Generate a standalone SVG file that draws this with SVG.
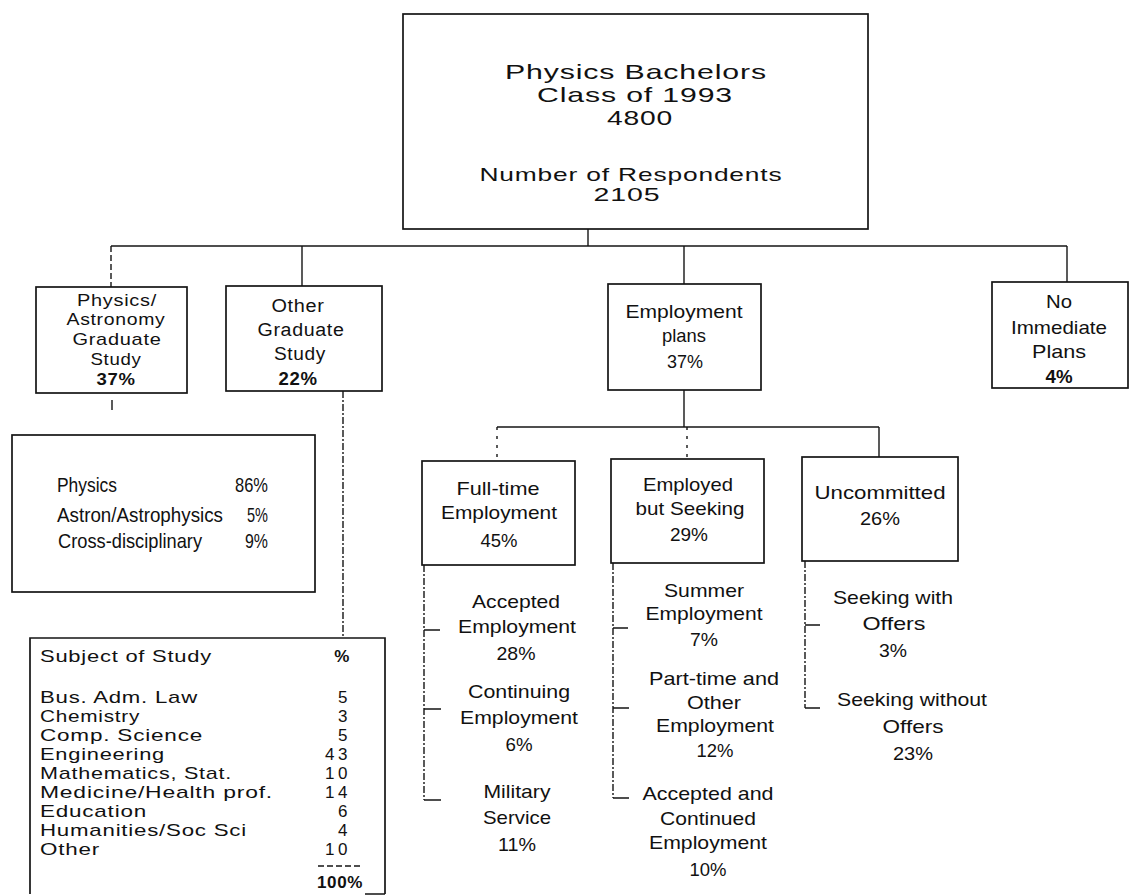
<svg xmlns="http://www.w3.org/2000/svg" width="1131" height="896" viewBox="0 0 1131 896">
<style>
.box{fill:none;stroke:#151515;stroke-width:1.7}
.w{font-family:"Liberation Sans",Arial,sans-serif;fill:#111;letter-spacing:0.6px}
.n{font-family:"Liberation Sans",Arial,sans-serif;fill:#111}
.c{fill:none;stroke:#151515;stroke-width:1.4}
.d{stroke-dasharray:7 2 2 2}
.dt{stroke-dasharray:3 6}
.b{font-weight:bold}
</style>
<rect width="1131" height="896" fill="#ffffff"/>
<g id="connectors">
<line class="c" x1="588" y1="229" x2="588" y2="246"/>
<line class="c" x1="111" y1="246" x2="1067" y2="246"/>
<line class="c" x1="111" y1="246" x2="111" y2="287" style="stroke-dasharray:6 3"/>
<line class="c" x1="302" y1="246" x2="302" y2="286"/>
<line class="c" x1="684" y1="246" x2="684" y2="284"/>
<line class="c" x1="1067" y1="246" x2="1067" y2="282"/>
<line class="c" x1="112" y1="400" x2="112" y2="410"/>
<line class="c d" x1="343" y1="391" x2="343" y2="636"/>
<line class="c" x1="684" y1="390" x2="684" y2="427"/>
<line class="c" x1="497" y1="427" x2="879" y2="427"/>
<line class="c dt" x1="497" y1="427" x2="497" y2="461"/>
<line class="c dt" x1="687" y1="427" x2="687" y2="459"/>
<line class="c" x1="879" y1="427" x2="879" y2="457"/>
<path class="c d" d="M424 565 V800"/>
<path class="c" d="M424 800 H441 M424 630 H440 M424 709 H441"/>
<path class="c d" d="M613 563 V798"/>
<path class="c" d="M613 798 H629 M613 628 H628 M613 708 H629"/>
<path class="c d" d="M805 561 V708"/>
<path class="c" d="M805 708 H820 M805 625 H820"/>
</g>
<g id="n-root">
<rect class="box" x="403" y="14" width="465" height="215"/>
<text class="w" font-size="21" text-anchor="middle" x="636" y="79" textLength="262" lengthAdjust="spacingAndGlyphs">Physics Bachelors</text>
<text class="w" font-size="21" text-anchor="middle" x="635" y="102" textLength="196" lengthAdjust="spacingAndGlyphs">Class of 1993</text>
<text class="w" font-size="21" text-anchor="middle" x="640" y="125" textLength="66" lengthAdjust="spacingAndGlyphs">4800</text>
<text class="w" font-size="19" text-anchor="middle" x="631" y="181" textLength="303" lengthAdjust="spacingAndGlyphs">Number of Respondents</text>
<text class="w" font-size="19" text-anchor="middle" x="627" y="201" textLength="67" lengthAdjust="spacingAndGlyphs">2105</text>
</g>
<g id="n-physgrad">
<rect class="box" x="36" y="287" width="151" height="106"/>
<text class="w" font-size="17" text-anchor="middle" x="117" y="306" textLength="80" lengthAdjust="spacingAndGlyphs">Physics/</text>
<text class="w" font-size="17" text-anchor="middle" x="116" y="325" textLength="99" lengthAdjust="spacingAndGlyphs">Astronomy</text>
<text class="w" font-size="17" text-anchor="middle" x="117" y="345" textLength="89" lengthAdjust="spacingAndGlyphs">Graduate</text>
<text class="w" font-size="17" text-anchor="middle" x="116" y="365" textLength="51" lengthAdjust="spacingAndGlyphs">Study</text>
<text class="w b" font-size="17" text-anchor="middle" x="116" y="385" textLength="39" lengthAdjust="spacingAndGlyphs">37%</text>
</g>
<g id="n-othergrad">
<rect class="box" x="226" y="286" width="156" height="105"/>
<text class="w" font-size="18" text-anchor="middle" x="298" y="312" textLength="53" lengthAdjust="spacingAndGlyphs">Other</text>
<text class="w" font-size="18" text-anchor="middle" x="301" y="336" textLength="87" lengthAdjust="spacingAndGlyphs">Graduate</text>
<text class="w" font-size="18" text-anchor="middle" x="300" y="360" textLength="52" lengthAdjust="spacingAndGlyphs">Study</text>
<text class="w b" font-size="18" text-anchor="middle" x="298" y="385" textLength="39" lengthAdjust="spacingAndGlyphs">22%</text>
</g>
<g id="n-employ">
<rect class="box" x="608" y="284" width="153" height="106"/>
<text class="n" font-size="19" text-anchor="middle" x="684" y="318" textLength="117" lengthAdjust="spacingAndGlyphs">Employment</text>
<text class="n" font-size="19" text-anchor="middle" x="684" y="342" textLength="44" lengthAdjust="spacingAndGlyphs">plans</text>
<text class="n" font-size="19" text-anchor="middle" x="685" y="368" textLength="36" lengthAdjust="spacingAndGlyphs">37%</text>
</g>
<g id="n-noplans">
<rect class="box" x="992" y="282" width="136" height="106"/>
<text class="n" font-size="19" text-anchor="middle" x="1059" y="308" textLength="26" lengthAdjust="spacingAndGlyphs">No</text>
<text class="n" font-size="19" text-anchor="middle" x="1059" y="334" textLength="96" lengthAdjust="spacingAndGlyphs">Immediate</text>
<text class="n" font-size="19" text-anchor="middle" x="1059" y="358" textLength="54" lengthAdjust="spacingAndGlyphs">Plans</text>
<text class="n b" font-size="19" text-anchor="middle" x="1059" y="383" textLength="27" lengthAdjust="spacingAndGlyphs">4%</text>
</g>
<g id="n-physsubj">
<rect class="box" x="12" y="435" width="303" height="157"/>
<text class="n" font-size="21" x="57" y="492" textLength="60" lengthAdjust="spacingAndGlyphs">Physics</text>
<text class="n" font-size="21" x="57" y="522" textLength="166" lengthAdjust="spacingAndGlyphs">Astron/Astrophysics</text>
<text class="n" font-size="21" x="58" y="548" textLength="144" lengthAdjust="spacingAndGlyphs">Cross-disciplinary</text>
<text class="n" font-size="21" text-anchor="end" x="268" y="492" textLength="33" lengthAdjust="spacingAndGlyphs">86%</text>
<text class="n" font-size="21" text-anchor="end" x="268" y="522" textLength="21" lengthAdjust="spacingAndGlyphs">5%</text>
<text class="n" font-size="21" text-anchor="end" x="268" y="548" textLength="23" lengthAdjust="spacingAndGlyphs">9%</text>
</g>
<g id="n-othersubj">
<path class="box" d="M30 894 V638 H385 V894 M365 894 H385"/>
<text class="w" font-size="17" x="40" y="662" textLength="172" lengthAdjust="spacingAndGlyphs">Subject of Study</text>
<text class="w b" font-size="17" text-anchor="middle" x="342" y="662">%</text>
<text class="w" font-size="17" x="40" y="703" textLength="158" lengthAdjust="spacingAndGlyphs">Bus. Adm. Law</text>
<text class="w" font-size="17" x="40" y="722" textLength="100" lengthAdjust="spacingAndGlyphs">Chemistry</text>
<text class="w" font-size="17" x="40" y="741" textLength="163" lengthAdjust="spacingAndGlyphs">Comp. Science</text>
<text class="w" font-size="17" x="40" y="760" textLength="125" lengthAdjust="spacingAndGlyphs">Engineering</text>
<text class="w" font-size="17" x="40" y="779" textLength="192" lengthAdjust="spacingAndGlyphs">Mathematics, Stat.</text>
<text class="w" font-size="17" x="40" y="798" textLength="233" lengthAdjust="spacingAndGlyphs">Medicine/Health prof.</text>
<text class="w" font-size="17" x="40" y="817" textLength="107" lengthAdjust="spacingAndGlyphs">Education</text>
<text class="w" font-size="17" x="40" y="836" textLength="207" lengthAdjust="spacingAndGlyphs">Humanities/Soc Sci</text>
<text class="w" font-size="17" x="40" y="855" textLength="60" lengthAdjust="spacingAndGlyphs">Other</text>
<text class="w" font-size="17" text-anchor="end" x="348" y="703">5</text>
<text class="w" font-size="17" text-anchor="end" x="348" y="722">3</text>
<text class="w" font-size="17" text-anchor="end" x="348" y="741">5</text>
<text class="w" font-size="17" text-anchor="end" x="348" y="760" textLength="23" lengthAdjust="spacing">43</text>
<text class="w" font-size="17" text-anchor="end" x="348" y="779" textLength="23" lengthAdjust="spacing">10</text>
<text class="w" font-size="17" text-anchor="end" x="348" y="798" textLength="23" lengthAdjust="spacing">14</text>
<text class="w" font-size="17" text-anchor="end" x="348" y="817">6</text>
<text class="w" font-size="17" text-anchor="end" x="348" y="836">4</text>
<text class="w" font-size="17" text-anchor="end" x="348" y="855" textLength="23" lengthAdjust="spacing">10</text>
<line class="c" x1="318" y1="866" x2="363" y2="866" style="stroke-dasharray:6 3"/>
<text class="w b" font-size="17" text-anchor="end" x="363" y="888" textLength="46" lengthAdjust="spacingAndGlyphs">100%</text>
</g>
<g id="n-fulltime">
<rect class="box" x="422" y="461" width="153" height="104"/>
<text class="n" font-size="19" text-anchor="middle" x="498" y="495" textLength="83" lengthAdjust="spacingAndGlyphs">Full-time</text>
<text class="n" font-size="19" text-anchor="middle" x="499" y="519" textLength="116" lengthAdjust="spacingAndGlyphs">Employment</text>
<text class="n" font-size="19" text-anchor="middle" x="499" y="547" textLength="37" lengthAdjust="spacingAndGlyphs">45%</text>
</g>
<g id="n-seeking">
<rect class="box" x="611" y="459" width="153" height="104"/>
<text class="n" font-size="19" text-anchor="middle" x="688" y="491" textLength="90" lengthAdjust="spacingAndGlyphs">Employed</text>
<text class="n" font-size="19" text-anchor="middle" x="690" y="515" textLength="109" lengthAdjust="spacingAndGlyphs">but Seeking</text>
<text class="n" font-size="19" text-anchor="middle" x="689" y="541" textLength="38" lengthAdjust="spacingAndGlyphs">29%</text>
</g>
<g id="n-uncommitted">
<rect class="box" x="802" y="457" width="156" height="104"/>
<text class="n" font-size="19" text-anchor="middle" x="880" y="499" textLength="131" lengthAdjust="spacingAndGlyphs">Uncommitted</text>
<text class="n" font-size="19" text-anchor="middle" x="880" y="525" textLength="40" lengthAdjust="spacingAndGlyphs">26%</text>
</g>
<g id="n-accepted">
<text class="n" font-size="19" text-anchor="middle" x="516" y="608" textLength="88" lengthAdjust="spacingAndGlyphs">Accepted</text>
<text class="n" font-size="19" text-anchor="middle" x="517" y="633" textLength="118" lengthAdjust="spacingAndGlyphs">Employment</text>
<text class="n" font-size="19" text-anchor="middle" x="516" y="660" textLength="39" lengthAdjust="spacingAndGlyphs">28%</text>
</g>
<g id="n-continuing">
<text class="n" font-size="19" text-anchor="middle" x="519" y="698" textLength="102" lengthAdjust="spacingAndGlyphs">Continuing</text>
<text class="n" font-size="19" text-anchor="middle" x="519" y="724" textLength="118" lengthAdjust="spacingAndGlyphs">Employment</text>
<text class="n" font-size="19" text-anchor="middle" x="519" y="751" textLength="27" lengthAdjust="spacingAndGlyphs">6%</text>
</g>
<g id="n-military">
<text class="n" font-size="19" text-anchor="middle" x="517" y="798" textLength="67" lengthAdjust="spacingAndGlyphs">Military</text>
<text class="n" font-size="19" text-anchor="middle" x="517" y="824" textLength="68" lengthAdjust="spacingAndGlyphs">Service</text>
<text class="n" font-size="19" text-anchor="middle" x="517" y="851" textLength="38" lengthAdjust="spacingAndGlyphs">11%</text>
</g>
<g id="n-summer">
<text class="n" font-size="19" text-anchor="middle" x="704" y="597" textLength="80" lengthAdjust="spacingAndGlyphs">Summer</text>
<text class="n" font-size="19" text-anchor="middle" x="704" y="620" textLength="117" lengthAdjust="spacingAndGlyphs">Employment</text>
<text class="n" font-size="19" text-anchor="middle" x="704" y="646" textLength="28" lengthAdjust="spacingAndGlyphs">7%</text>
</g>
<g id="n-parttime">
<text class="n" font-size="19" text-anchor="middle" x="714" y="685" textLength="130" lengthAdjust="spacingAndGlyphs">Part-time and</text>
<text class="n" font-size="19" text-anchor="middle" x="714" y="709" textLength="54" lengthAdjust="spacingAndGlyphs">Other</text>
<text class="n" font-size="19" text-anchor="middle" x="715" y="732" textLength="118" lengthAdjust="spacingAndGlyphs">Employment</text>
<text class="n" font-size="19" text-anchor="middle" x="715" y="757" textLength="37" lengthAdjust="spacingAndGlyphs">12%</text>
</g>
<g id="n-acccont">
<text class="n" font-size="19" text-anchor="middle" x="708" y="800" textLength="131" lengthAdjust="spacingAndGlyphs">Accepted and</text>
<text class="n" font-size="19" text-anchor="middle" x="708" y="825" textLength="96" lengthAdjust="spacingAndGlyphs">Continued</text>
<text class="n" font-size="19" text-anchor="middle" x="708" y="849" textLength="118" lengthAdjust="spacingAndGlyphs">Employment</text>
<text class="n" font-size="19" text-anchor="middle" x="708" y="876" textLength="37" lengthAdjust="spacingAndGlyphs">10%</text>
</g>
<g id="n-withoffers">
<text class="n" font-size="19" text-anchor="middle" x="893" y="604" textLength="120" lengthAdjust="spacingAndGlyphs">Seeking with</text>
<text class="n" font-size="19" text-anchor="middle" x="894" y="630" textLength="63" lengthAdjust="spacingAndGlyphs">Offers</text>
<text class="n" font-size="19" text-anchor="middle" x="893" y="657" textLength="28" lengthAdjust="spacingAndGlyphs">3%</text>
</g>
<g id="n-withoutoffers">
<text class="n" font-size="19" text-anchor="middle" x="912" y="706" textLength="150" lengthAdjust="spacingAndGlyphs">Seeking without</text>
<text class="n" font-size="19" text-anchor="middle" x="913" y="733" textLength="61" lengthAdjust="spacingAndGlyphs">Offers</text>
<text class="n" font-size="19" text-anchor="middle" x="913" y="760" textLength="40" lengthAdjust="spacingAndGlyphs">23%</text>
</g>
</svg>
